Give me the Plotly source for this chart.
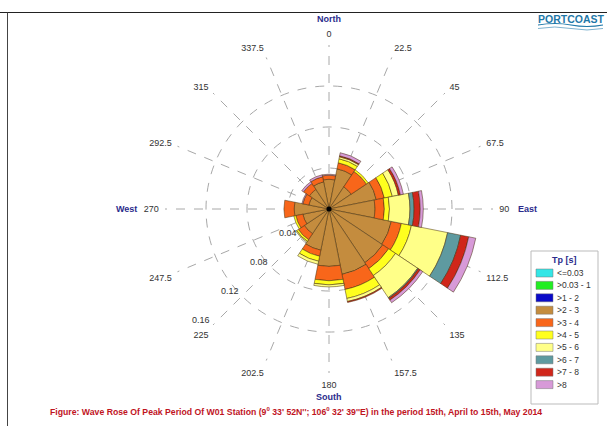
import math
import plotly.graph_objects as go

W, H = 607, 426

directions = [0, 22.5, 45, 67.5, 90, 112.5, 135, 157.5, 180, 202.5, 225, 247.5, 270, 292.5, 315, 337.5]
direction_labels = ["0", "22.5", "45", "67.5", "90", "112.5", "135", "157.5", "180",
                    "202.5", "225", "247.5", "270", "292.5", "315", "337.5"]

classes = ["<=0.03", ">0.03 - 1", ">1 - 2", ">2 - 3", ">3 - 4", ">4 - 5", ">5 - 6", ">6 - 7", ">7 - 8", ">8"]
colors = ["#33E6E6", "#22EE22", "#0A0AC8", "#C48C3E", "#F8661A", "#FFFF1E", "#FFFF88", "#5E9AA0", "#D0261A", "#D79AD8"]

tp_le003 = [0] * 16
tp_003_1 = [0] * 16
tp_1_2 = [0] * 16
tp_2_3 = [0.029, 0.040, 0.026, 0.047, 0.045, 0.062, 0.063, 0.065, 0.056, 0.041, 0.029, 0.026, 0.034, 0.020, 0.023, 0.027]
tp_3_4 = [0.004, 0.006, 0.018, 0.008, 0.009, 0.010, 0.007, 0.015, 0.014, 0.006, 0.007, 0.007, 0.010, 0.006, 0.007, 0.005]
tp_4_5 = [0.000, 0.004, 0.002, 0.008, 0.005, 0.010, 0.008, 0.009, 0.004, 0.005, 0.002, 0.002, 0.000, 0.000, 0.000, 0.000]
tp_5_6 = [0.000, 0.002, 0.000, 0.006, 0.020, 0.036, 0.026, 0.003, 0.002, 0.003, 0.001, 0.000, 0.000, 0.000, 0.000, 0.000]
tp_6_7 = [0.000, 0.000, 0.000, 0.000, 0.004, 0.013, 0.001, 0.000, 0.000, 0.000, 0.000, 0.000, 0.000, 0.000, 0.000, 0.000]
tp_7_8 = [0.000, 0.001, 0.000, 0.002, 0.006, 0.008, 0.002, 0.001, 0.000, 0.000, 0.000, 0.000, 0.000, 0.000, 0.000, 0.000]
tp_gt8 = [0.001, 0.003, 0.000, 0.003, 0.003, 0.007, 0.003, 0.000, 0.000, 0.000, 0.000, 0.000, 0.000, 0.001, 0.002, 0.002]

series = [tp_le003, tp_003_1, tp_1_2, tp_2_3, tp_3_4, tp_4_5, tp_5_6, tp_6_7, tp_7_8, tp_gt8]

radial_max = 0.16
radial_ticks = [0.04, 0.08, 0.12, 0.16]
radial_ticktext = ["0.04", "0.08", "0.12", "0.16"]

title_text = ("Figure: Wave Rose Of Peak Period Of W01 Station (9<sup>0</sup> 33' 52N''; "
              "106<sup>0</sup> 32' 39''E) in the period 15th, April to 15th, May 2014")


def pxx(x):
    return x / W


def pxy(y):
    return 1 - y / H


fig = go.Figure()
for name, vals, col in zip(classes, series, colors):
    fig.add_trace(go.Barpolar(
        r=vals, theta=directions, width=[22.5] * len(directions), name=name,
        marker=dict(color=col, line=dict(color="rgba(70,45,10,0.85)", width=0.6)),
        showlegend=False,
    ))

# centre dot
fig.add_trace(go.Scatterpolar(r=[0], theta=[0], mode="markers",
                              marker=dict(color="black", size=5), showlegend=False, hoverinfo="skip"))

cx, cy, R = 329, 209, 164
fig.update_layout(
    width=W, height=H,
    margin=dict(l=0, r=0, t=0, b=0),
    paper_bgcolor="white",
    font=dict(family="Liberation Sans, Arial, sans-serif", size=9, color="#333333"),
    polar=dict(
        domain=dict(x=[pxx(cx - R), pxx(cx + R)], y=[pxy(cy + R), pxy(cy - R)]),
        bgcolor="white",
        barmode="stack",
        angularaxis=dict(
            direction="clockwise", rotation=90,
            tickmode="array", tickvals=directions, ticktext=direction_labels,
            showline=False, showgrid=True, gridcolor="#A8A8A8", griddash="dash", gridwidth=1,
            ticks="outside", ticklen=4, tickcolor="rgba(0,0,0,0)",
            tickfont=dict(size=9, color="#333333"),
        ),
        radialaxis=dict(
            range=[0, radial_max], tickmode="array", tickvals=radial_ticks, ticktext=radial_ticktext,
            showline=False, showgrid=True, gridcolor="#A8A8A8", griddash="dash", gridwidth=1,
            angle=225, ticks="", showticklabels=False,
        ),
    ),
)

navy = "#2B2B8C"
ann = []
# radial tick labels, placed beside the 225-degree spoke
u = (-math.sqrt(0.5), math.sqrt(0.5))
perp = (-math.sqrt(0.5), -math.sqrt(0.5))
for v, t in zip(radial_ticks, radial_ticktext):
    rp = v / radial_max * R + 5.5
    xx = cx + rp * u[0] + 12 * perp[0]
    yy = cy + rp * u[1] + 12 * perp[1]
    ann.append(dict(x=pxx(xx), y=pxy(yy), text=t, font=dict(size=9, color="#333333")))

ann.append(dict(x=pxx(329), y=pxy(19), text="<b>North</b>", font=dict(size=9, color=navy)))
ann.append(dict(x=pxx(329), y=pxy(397), text="<b>South</b>", font=dict(size=9, color=navy)))
ann.append(dict(x=pxx(126), y=pxy(209), text="<b>West</b>", font=dict(size=9, color=navy)))
ann.append(dict(x=pxx(527), y=pxy(209), text="<b>East</b>", font=dict(size=9, color=navy)))
ann.append(dict(x=pxx(296), y=pxy(411), text="<b>" + title_text + "</b>",
                font=dict(family="Liberation Sans, Arial, sans-serif", size=8.7, color="#C0141E")))
ann.append(dict(x=pxx(571), y=pxy(18.5), text="<b>PORTCOAST</b>",
                font=dict(family="Liberation Sans, Arial, sans-serif", size=10.5, color="#1F78A8")))

shapes = []
shapes.append(dict(type="line", xref="paper", yref="paper", x0=0, x1=1, y0=pxy(12.5), y1=pxy(12.5),
                   line=dict(color="#222222", width=1.2)))
shapes.append(dict(type="line", xref="paper", yref="paper", x0=pxx(7.5), x1=pxx(7.5), y0=0, y1=pxy(12.5),
                   line=dict(color="#444444", width=1)))
# logo waves
shapes.append(dict(type="path", xref="paper", yref="paper",
                   path="M %f,%f Q %f,%f %f,%f T %f,%f" % (pxx(538), pxy(25), pxx(555), pxy(22), pxx(571), pxy(25),
                                                           pxx(603), pxy(25)),
                   line=dict(color="#1F78A8", width=1.2)))
shapes.append(dict(type="path", xref="paper", yref="paper",
                   path="M %f,%f Q %f,%f %f,%f T %f,%f" % (pxx(538), pxy(28.5), pxx(555), pxy(25.5), pxx(571), pxy(28.5),
                                                           pxx(603), pxy(28.5)),
                   line=dict(color="#7FB3D0", width=1)))

# legend (manual)
lx0, lx1, ly0, ly1 = 531, 598, 251, 404
shapes.append(dict(type="rect", xref="paper", yref="paper", x0=pxx(lx0), x1=pxx(lx1), y0=pxy(ly1), y1=pxy(ly0),
                   line=dict(color="#BBBBBB", width=1), fillcolor="white"))
ann.append(dict(x=pxx(564), y=pxy(260), text="<b>Tp [s]</b>", font=dict(size=9, color=navy)))
for i, (name, col) in enumerate(zip(classes, colors)):
    yy = 273 + i * 12.4
    shapes.append(dict(type="rect", xref="paper", yref="paper", x0=pxx(536), x1=pxx(553),
                       y0=pxy(yy + 4), y1=pxy(yy - 4), fillcolor=col, line=dict(color="#777777", width=0.5)))
    ann.append(dict(x=pxx(555), y=pxy(yy), text=name, xanchor="left", font=dict(size=8.5, color="#333333")))

for a in ann:
    a.setdefault("xref", "paper")
    a.setdefault("yref", "paper")
    a.setdefault("showarrow", False)
    a.setdefault("xanchor", "center")
    a.setdefault("yanchor", "middle")
fig.update_layout(annotations=ann, shapes=shapes)

fig.write_html("out.html", config={"displayModeBar": False},
               post_script="document.body.style.margin='0px';document.body.style.overflow='hidden';")
